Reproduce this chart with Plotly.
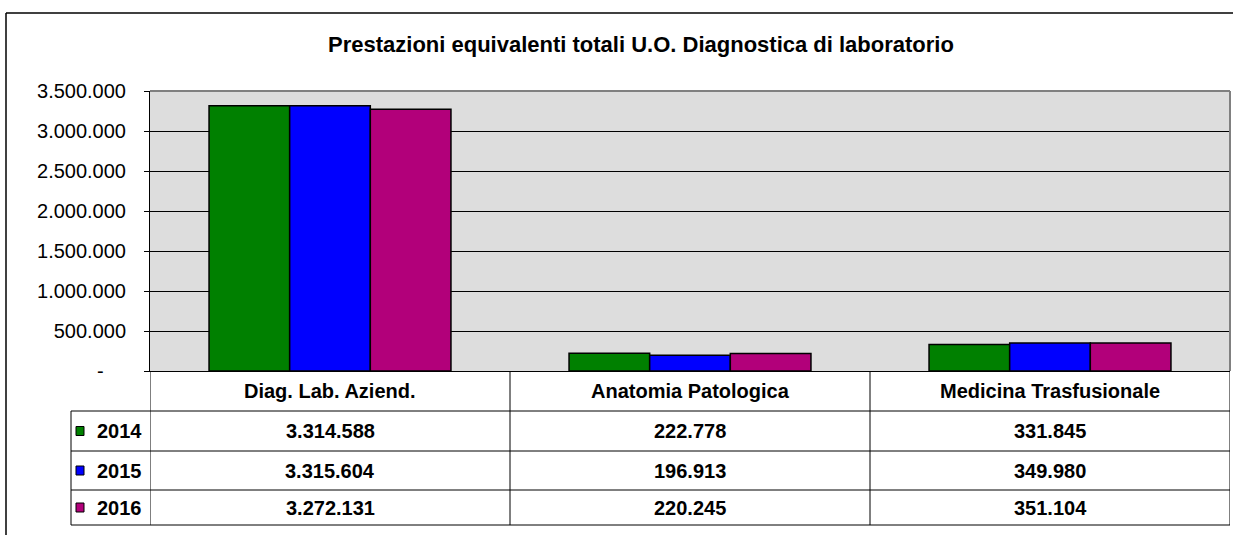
import plotly.graph_objects as go

# ---------------- data ----------------
categories = ["Diag. Lab. Aziend.", "Anatomia Patologica", "Medicina Trasfusionale"]
years = ["2014", "2015", "2016"]
values_2014 = [3314588, 222778, 331845]
values_2015 = [3315604, 196913, 349980]
values_2016 = [3272131, 220245, 351104]
series_colors = ["#008000", "#0000FF", "#B2007A"]
tick_vals = [0, 500000, 1000000, 1500000, 2000000, 2500000, 3000000, 3500000]
tick_labels = ["-\u00a0\u00a0\u00a0\u00a0", "500.000", "1.000.000", "1.500.000",
               "2.000.000", "2.500.000", "3.000.000", "3.500.000"]
title_text = "Prestazioni equivalenti totali U.O. Diagnostica di laboratorio"

series = [values_2014, values_2015, values_2016]

# ---------------- geometry (pixels) ----------------
W, H = 1233, 535
L, R, T, B = 150, 1230, 91, 371


def px(x):
    return (x - L) / (R - L)


def py(y):
    return (B - y) / (B - T)


def fmt(v):
    return f"{v:,}".replace(",", ".")


FONT = "Liberation Sans, Arial, sans-serif"

fig = go.Figure()
for yr, vals, col in zip(years, series, series_colors):
    fig.add_trace(go.Bar(
        x=categories, y=vals, name=yr,
        marker=dict(color=col, line=dict(color="black", width=1.5)),
    ))

shapes = []
line_black = dict(color="black", width=1)
# plot area border (gray top/right)
shapes.append(dict(type="line", xref="paper", yref="paper", x0=0, x1=1, y0=1, y1=1,
                   line=dict(color="#808080", width=2)))
shapes.append(dict(type="line", xref="paper", yref="paper", x0=1, x1=1, y0=0, y1=1,
                   line=dict(color="#808080", width=2)))

# outer chart border (top & left)
shapes.append(dict(type="line", xref="paper", yref="paper", x0=px(6), x1=px(1300), y0=py(13), y1=py(13),
                   line=dict(color="black", width=1.5)))
shapes.append(dict(type="line", xref="paper", yref="paper", x0=px(6), x1=px(6), y0=py(13), y1=py(600),
                   line=dict(color="black", width=1.5)))

# data table
row_lines = [411, 451, 490, 525]
for ry in row_lines:
    shapes.append(dict(type="line", xref="paper", yref="paper", x0=px(71), x1=px(1230),
                       y0=py(ry), y1=py(ry), line=line_black))
for i in range(len(categories) + 1):
    shapes.append(dict(type="line", xref="x", yref="paper", x0=i - 0.5, x1=i - 0.5,
                       y0=py(371), y1=py(525), line=line_black))
shapes.append(dict(type="line", xref="paper", yref="paper", x0=px(71), x1=px(71),
                   y0=py(411), y1=py(525), line=line_black))

annotations = []
annotations.append(dict(text="<b>" + title_text + "</b>", xref="paper", yref="paper",
                        x=px(641), y=py(45), xanchor="center", yanchor="middle",
                        showarrow=False, font=dict(family=FONT, size=22, color="black")))

header_y = py(391)
for i, cat in enumerate(categories):
    annotations.append(dict(text="<b>" + cat + "</b>", xref="x", yref="paper",
                            x=i, y=header_y, xanchor="center", yanchor="middle",
                            showarrow=False, font=dict(family=FONT, size=20, color="black")))

row_centers = [431, 470.5, 507.5]
for yr, vals, col, rc in zip(years, series, series_colors, row_centers):
    annotations.append(dict(text="<b>" + yr + "</b>", xref="paper", yref="paper",
                            x=px(95), y=py(rc), xanchor="left", yanchor="middle",
                            showarrow=False, font=dict(family=FONT, size=20, color="black")))
    shapes.append(dict(type="rect", xref="paper", yref="paper",
                       x0=px(76), x1=px(84), y0=py(rc - 4.5), y1=py(rc + 4.5),
                       fillcolor=col, line=dict(color="black", width=1)))
    for i, v in enumerate(vals):
        annotations.append(dict(text="<b>" + fmt(v) + "</b>", xref="x", yref="paper",
                                x=i, y=py(rc), xanchor="center", yanchor="middle",
                                showarrow=False, font=dict(family=FONT, size=20, color="black")))

fig.update_layout(
    width=W, height=H,
    margin=dict(l=L, r=W - R, t=T, b=H - B, pad=0),
    paper_bgcolor="white",
    plot_bgcolor="#DDDDDD",
    barmode="group",
    bargap=0.328,
    bargroupgap=0,
    showlegend=False,
    shapes=shapes,
    annotations=annotations,
    font=dict(family=FONT, color="black"),
)
fig.update_xaxes(
    showticklabels=False, ticks="", showline=True, linecolor="black", linewidth=1,
    showgrid=False, zeroline=False, range=[-0.5, len(categories) - 0.5],
)
fig.update_yaxes(
    range=[0, 3500000], tickvals=tick_vals, ticktext=tick_labels,
    ticks="outside", ticklen=5, tickcolor="black", tickwidth=1,
    ticklabelstandoff=14,
    tickfont=dict(family=FONT, size=20, color="black"),
    showgrid=True, gridcolor="black", gridwidth=1,
    showline=True, linecolor="black", linewidth=1, zeroline=False,
)

fig.write_html("out.html", config={"displayModeBar": False},
               post_script="document.body.style.margin='0px';document.body.style.overflow='hidden';")
